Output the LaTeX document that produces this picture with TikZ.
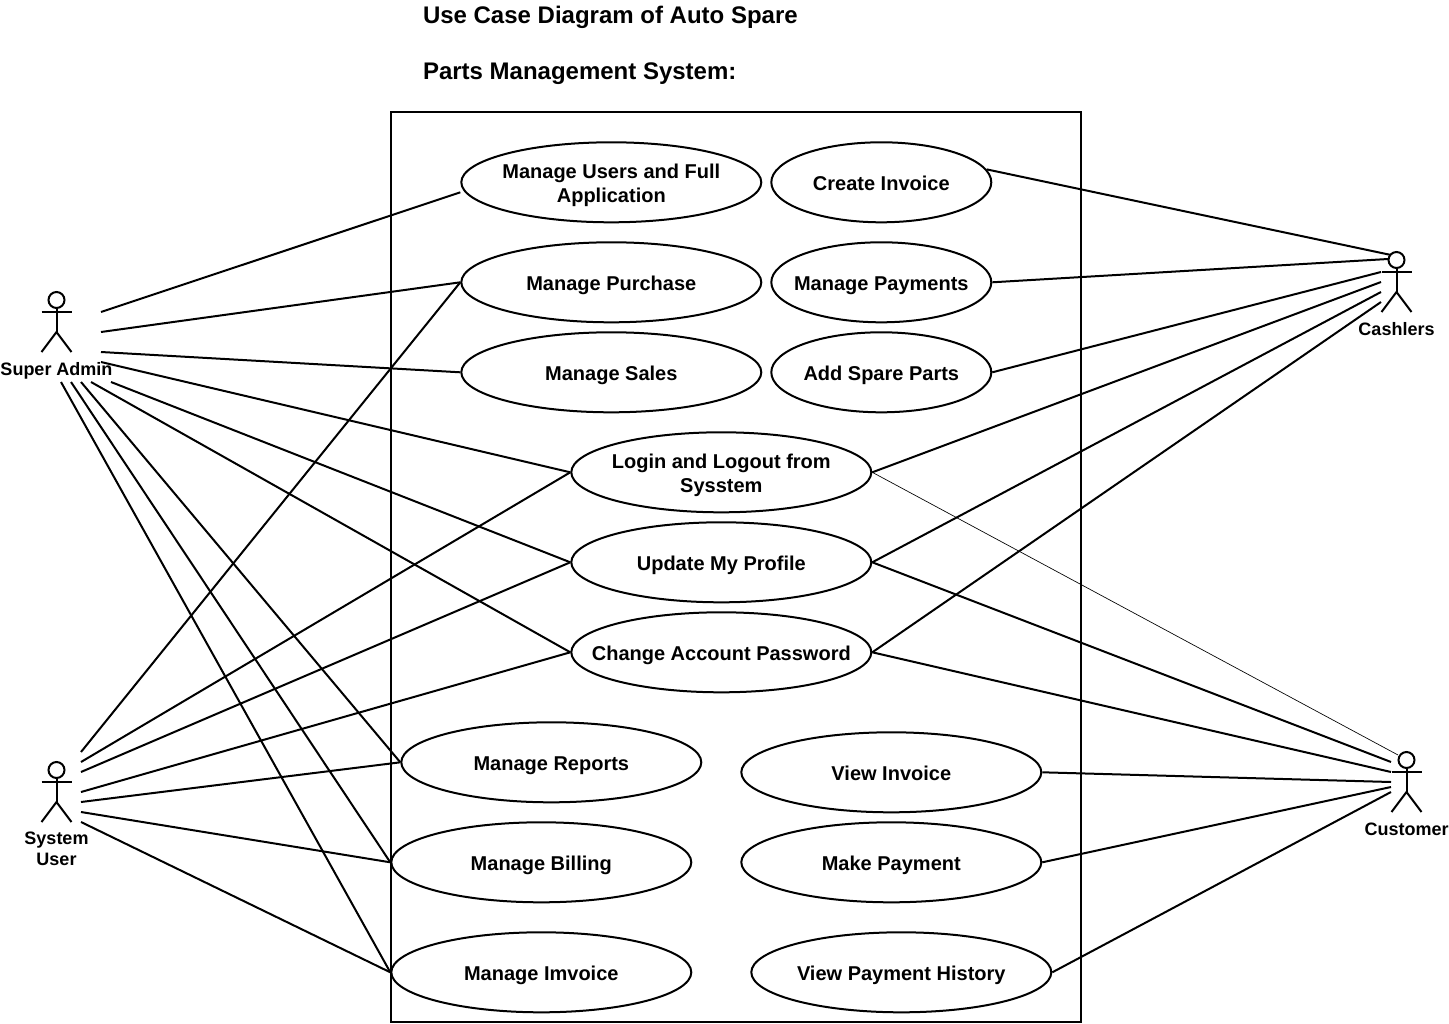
\documentclass[tikz,border=0pt]{standalone}
\usepackage{fontspec}
\setmainfont{Liberation Sans}
\usetikzlibrary{shapes.geometric}

\begin{document}
\begin{tikzpicture}[
    x=0.75pt,
    y=-0.75pt,
    line width=1.5pt,
    usecase/.style={draw, ellipse, inner ysep=0pt, inner xsep=-60pt, minimum width=225pt, minimum height=60pt, align=center, font=\fontsize{15}{18}\selectfont\bfseries, execute at begin node={\rule{0pt}{17pt}}, execute at end node={\rule[-5pt]{0pt}{5pt}}},
    twolines/.style={execute at begin node={\rule{0pt}{35pt}}},
    smallcase/.style={usecase, minimum width=165pt},
    actor_text/.style={align=center, inner sep=0pt, font=\fontsize{13.5}{15.75}\selectfont\bfseries, execute at begin node=\strut, execute at end node=\strut},
    title_text/.style={anchor=base west, inner sep=0pt, font=\fontsize{18}{21}\selectfont\bfseries},
    faint/.style={line width=0.5pt}
]
    \useasboundingbox (0,0) rectangle (1449,1024);

    % === 1. Title and system boundary ===
    \node[title_text] (title1) at (422,24) {Use Case Diagram of Auto Spare};
    \node[title_text] (title2) at (422,79.5) {Parts Management System:};
    \node[draw, inner sep=0pt, minimum width=517.5pt, minimum height=682.5pt] (boundary) at (736.3,567.3) {};

    % === 2. Use cases ===
    \node[usecase, twolines] (users) at (611.3,182.3) {Manage Users and Full\\Application};
    \node[usecase] (purchase) at (611.3,282.3) {Manage Purchase};
    \node[usecase] (sales) at (611.3,372.3) {Manage Sales};
    \node[smallcase] (create) at (881.3,182.3) {Create Invoice};
    \node[smallcase] (payments) at (881.3,282.3) {Manage Payments};
    \node[smallcase] (spare) at (881.3,372.3) {Add Spare Parts};
    \node[usecase, twolines] (login) at (721.3,472.3) {Login and Logout from\\Sysstem};
    \node[usecase] (profile) at (721.3,562.3) {Update My Profile};
    \node[usecase] (password) at (721.3,652.3) {Change Account Password};
    \node[usecase] (reports) at (551.3,762.3) {Manage Reports};
    \node[usecase] (billing) at (541.3,862.3) {Manage Billing};
    \node[usecase] (invoice) at (541.3,972.3) {Manage Imvoice};
    \node[usecase] (view) at (891.3,772.3) {View Invoice};
    \node[usecase] (make) at (891.3,862.3) {Make Payment};
    \node[usecase] (history) at (901.3,972.3) {View Payment History};

    % === 3. Actors ===
    \foreach \ax/\ay in {56.5/292, 56.5/762, 1396.5/252, 1406.5/752} {
        \draw[line width=1.5pt] (\ax,\ay+8) circle [radius=6pt];
        \draw (\ax,\ay+16) -- (\ax,\ay+40);
        \draw (\ax-15,\ay+20) -- (\ax+15,\ay+20);
        \draw (\ax-15,\ay+60) -- (\ax,\ay+40) -- (\ax+15,\ay+60);
    }
    \node[actor_text] (admin) at (56.5,371) {Super Admin};
    \node[actor_text] (sysuser) at (56.5,852) {System\\User};
    \node[actor_text] (cashier) at (1396.5,331) {Cashlers};
    \node[actor_text] (customer) at (1406.5,831) {Customer};

    % === 4. Free ends near the actors ===
    \foreach \cname/\cx/\cy in {a1/101/312, a2/101/332, a3/101/352, a4/101/362, a5/111/382, a6/91/382, a7/81/382, a8/71/382, a9/61/382,
        s1/81/752, s2/81/762, s3/81/772, s4/81/792, s5/81/802, s6/81/812, s7/81/822,
        c1/1391/255, c2/1388/259, c3/1381/272, c4/1381/282, c5/1381/292, c6/1381/302,
        d1/1398/755, d2/1391/762, d3/1391/772, d4/1391/782, d5/1391/787, d6/1391/792}
        \coordinate (\cname) at (\cx,\cy);

    % Super Admin
    \draw (a1) -- ([yshift=-7.5pt]users.west);
    \draw (a2) -- (purchase.west);
    \draw (a3) -- (sales.west);
    \draw (a4) -- (login.west);
    \draw (a5) -- (profile.west);
    \draw (a6) -- (password.west);
    \draw (a7) -- (reports.west);
    \draw (a8) -- (billing.west);
    \draw (a9) -- (invoice.west);

    % System User
    \draw (s1) -- (purchase.west);
    \draw (s2) -- (login.west);
    \draw (s3) -- (profile.west);
    \draw (s4) -- (password.west);
    \draw (s5) -- (reports.west);
    \draw (s6) -- (billing.west);
    \draw (s7) -- (invoice.west);

    % Cashlers
    \draw (create.7) -- (c1);
    \draw (payments.east) -- (c2);
    \draw (spare.east) -- (c3);
    \draw (login.east) -- (c4);
    \draw (profile.east) -- (c5);
    \draw (password.east) -- (c6);

    % Customer
    \draw[faint] (login.east) -- (d1);
    \draw (profile.east) -- (d2);
    \draw (password.east) -- (d3);
    \draw (view.east) -- (d4);
    \draw (make.east) -- (d5);
    \draw (history.east) -- (d6);

\end{tikzpicture}
\end{document}
